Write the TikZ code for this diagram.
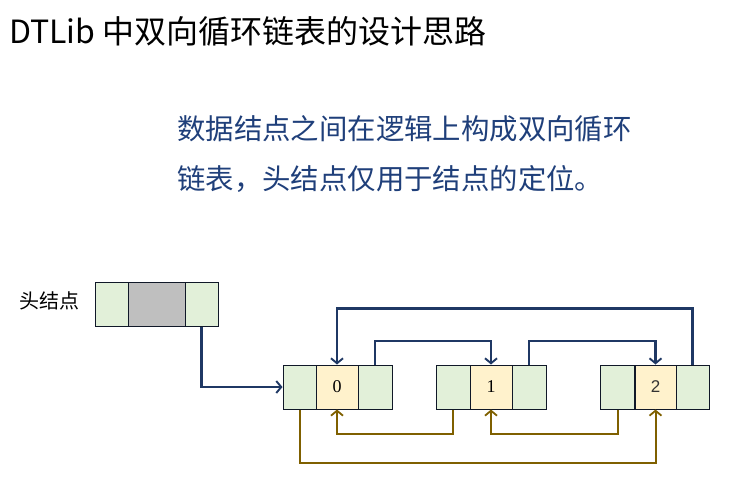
\documentclass[tikz,border=0pt]{standalone}
\usepackage{fontspec}
\setmainfont{Noto Sans CJK SC}
\newfontfamily\digserif{Liberation Serif}
\newfontfamily\digsans{Liberation Sans}
\usetikzlibrary{arrows.meta}
\definecolor{navyline}{HTML}{1F3864}
\definecolor{bodyblue}{HTML}{1F3F7A}
\definecolor{oliveline}{HTML}{7F6000}
\definecolor{cellgreen}{HTML}{E2F0D9}
\definecolor{cellorange}{HTML}{FFF2CC}
\definecolor{cellgray}{HTML}{BFBFBF}
\definecolor{cellborder}{HTML}{101828}
\tikzset{
  cell/.style={draw=cellborder, line width=1pt, inner sep=0pt, minimum height=44pt, anchor=center},
  gcell/.style={cell, fill=cellgreen},
  ocell/.style={cell, fill=cellorange},
  kcell/.style={cell, fill=cellgray},
  navyarrow/.style={draw=navyline, line width=2.1pt, -{Straight Barb[length=5pt,width=12pt,line width=1.9pt]}},
  olivearrow/.style={draw=oliveline, line width=2pt, -{Straight Barb[length=5pt,width=12pt,line width=1.8pt]}}
}
\begin{document}
\begin{tikzpicture}[x=1pt,y=-1pt]
\useasboundingbox (0,0) rectangle (743,483);
% title
\node[anchor=west, inner sep=0pt, font=\fontsize{32}{32}\selectfont] (title) at (9,31) {DTLib 中双向循环链表的设计思路};
% body
\node[anchor=west, inner sep=0pt, text=bodyblue, font=\fontsize{28.4}{28.4}\selectfont] (body1) at (177,129) {数据结点之间在逻辑上构成双向循环};
\node[anchor=west, inner sep=0pt, text=bodyblue, font=\fontsize{28.4}{28.4}\selectfont] (body2) at (177,179) {链表，头结点仅用于结点的定位。};
% head label
\node[anchor=west, inner sep=0pt, font=\fontsize{20}{20}\selectfont] (headlabel) at (19,301) {头结点};
% head node
\node[gcell, minimum width=33pt] (hl) at (111.5,304) {};
\node[kcell, minimum width=57pt] (hm) at (156.5,304) {};
\node[gcell, minimum width=33pt] (hr) at (201.5,304) {};
% node 0
\node[gcell, minimum width=33pt] (n0l) at (299.5,387) {};
\node[ocell, minimum width=42pt, font=\digserif\fontsize{18}{18}\selectfont] (n0m) at (337,387) {0};
\node[gcell, minimum width=34pt] (n0r) at (375,387) {};
% node 1
\node[gcell, minimum width=34pt] (n1l) at (453,387) {};
\node[ocell, minimum width=42pt, font=\digserif\fontsize{18}{18}\selectfont] (n1m) at (491,387) {1};
\node[gcell, minimum width=34pt] (n1r) at (529,387) {};
% node 2
\node[gcell, minimum width=34pt] (n2l) at (617.5,387) {};
\node[ocell, minimum width=41pt, text=black!80, font=\digsans\fontsize{17}{17}\selectfont] (n2m) at (655.5,387) {2};
\node[gcell, minimum width=33pt] (n2r) at (692.5,387) {};
% head -> node 0
\draw[navyarrow] (hr.south) |- (n0l.west);
% navy next links
\draw[navyarrow] (n0r.north) -- (n0r.north |- 0,341) -| (n1m.north);
\draw[navyarrow] (n1r.north) -- (n1r.north |- 0,341) -| (n2m.north);
\draw[navyarrow] (n2r.north) -- (n2r.north |- 0,308.5) -| (n0m.north);
% olive prev links
\draw[olivearrow] (n1l.south) -- (n1l.south |- 0,434) -| (n0m.south);
\draw[olivearrow] (n2l.south) -- (n2l.south |- 0,434) -| (n1m.south);
\draw[olivearrow] (n0l.south) -- (n0l.south |- 0,463) -| (n2m.south);
\end{tikzpicture}
\end{document}
